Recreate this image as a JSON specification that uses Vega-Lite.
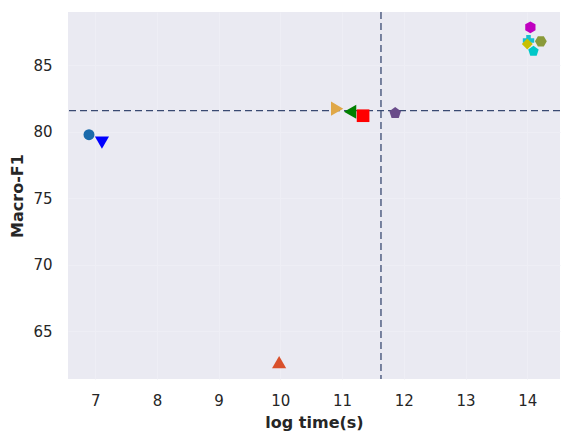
{
  "$schema": "https://vega.github.io/schema/vega-lite/v6.json",
  "width": 492,
  "height": 367,
  "autosize": {"type": "none"},
  "padding": {"left": 68, "top": 12, "right": 12, "bottom": 62},
  "background": "white",
  "config": {
    "view": {"fill": "#eaeaf2", "stroke": null},
    "font": "DejaVu Sans",
    "axis": {
      "domain": false,
      "ticks": false,
      "grid": true,
      "gridColor": "#eeeef5",
      "gridWidth": 1,
      "labelFont": "DejaVu Sans",
      "labelFontSize": 15,
      "labelColor": "#262626",
      "titleFont": "DejaVu Sans",
      "titleFontSize": 16,
      "titleFontWeight": "bold",
      "titleColor": "#262626"
    }
  },
  "datasets": {
    "pts": [
      {"method": "M1", "x": 6.9, "y": 79.77},
      {"method": "M2", "x": 7.11, "y": 79.17},
      {"method": "M3", "x": 9.98, "y": 62.67},
      {"method": "M4", "x": 10.92, "y": 81.73},
      {"method": "M5", "x": 11.13, "y": 81.5},
      {"method": "M6", "x": 11.34, "y": 81.2},
      {"method": "M7", "x": 11.86, "y": 81.4},
      {"method": "M8", "x": 14.05, "y": 87.85},
      {"method": "M9", "x": 14.02, "y": 86.85},
      {"method": "M10", "x": 14.22, "y": 86.8},
      {"method": "M11", "x": 14.0, "y": 86.6},
      {"method": "M12", "x": 14.1, "y": 86.05}
    ],
    "hline": [{"y": 81.58}],
    "vline": [{"x": 11.63}]
  },
  "layer": [
    {
      "data": {"name": "hline"},
      "mark": {"type": "rule", "color": "#3a4a72", "strokeDash": [7, 4], "strokeWidth": 1.3},
      "encoding": {"y": {"field": "y", "type": "quantitative", "scale": {"domain": [61.4, 89]}}}
    },
    {
      "data": {"name": "vline"},
      "mark": {"type": "rule", "color": "#3a4a72", "strokeDash": [7, 4], "strokeWidth": 1.3},
      "encoding": {"x": {"field": "x", "type": "quantitative", "scale": {"domain": [6.56, 14.53]}}}
    },
    {
      "data": {"name": "pts"},
      "mark": {"type": "point", "filled": true, "opacity": 1},
      "encoding": {
        "x": {
          "field": "x", "type": "quantitative",
          "scale": {"domain": [6.56, 14.53], "nice": false, "zero": false},
          "axis": {"values": [7, 8, 9, 10, 11, 12, 13, 14], "format": "d", "title": "log time(s)", "labelPadding": 14, "titlePadding": 6}
        },
        "y": {
          "field": "y", "type": "quantitative",
          "scale": {"domain": [61.4, 89], "nice": false, "zero": false},
          "axis": {"values": [65, 70, 75, 80, 85], "format": "d", "title": "Macro-F1", "labelPadding": 16, "titlePadding": 7}
        },
        "size": {
          "field": "method", "type": "nominal", "legend": null,
          "scale": {
            "type": "ordinal",
            "domain": ["M1","M2","M3","M4","M5","M6","M7","M8","M9","M10","M11","M12"],
            "range": [120, 200, 200, 200, 200, 160, 150, 140, 130, 140, 120, 120]
          }
        },
        "color": {
          "field": "method", "type": "nominal", "legend": null,
          "scale": {
            "domain": ["M1","M2","M3","M4","M5","M6","M7","M8","M9","M10","M11","M12"],
            "range": ["#1a6aab","#0000ff","#d9502b","#e0a848","#008000","#ff0000","#6a4c8a","#c000c0","#17c0cf","#8a9a3a","#c8c000","#00c8c8"]
          }
        },
        "shape": {
          "field": "method", "type": "nominal", "legend": null,
          "scale": {
            "domain": ["M1","M2","M3","M4","M5","M6","M7","M8","M9","M10","M11","M12"],
            "range": ["circle","triangle-down","triangle-up","triangle-right","triangle-left","square",
              "M0,-1L0.951,-0.309L0.588,0.809L-0.588,0.809L-0.951,-0.309Z",
              "M0,-1L0.866,-0.5L0.866,0.5L0,1L-0.866,0.5L-0.866,-0.5Z",
              "cross",
              "M-1,0L-0.5,-0.866L0.5,-0.866L1,0L0.5,0.866L-0.5,0.866Z",
              "diamond",
              "M0,-1L0.951,-0.309L0.588,0.809L-0.588,0.809L-0.951,-0.309Z"]
          }
        }
      }
    }
  ]
}
